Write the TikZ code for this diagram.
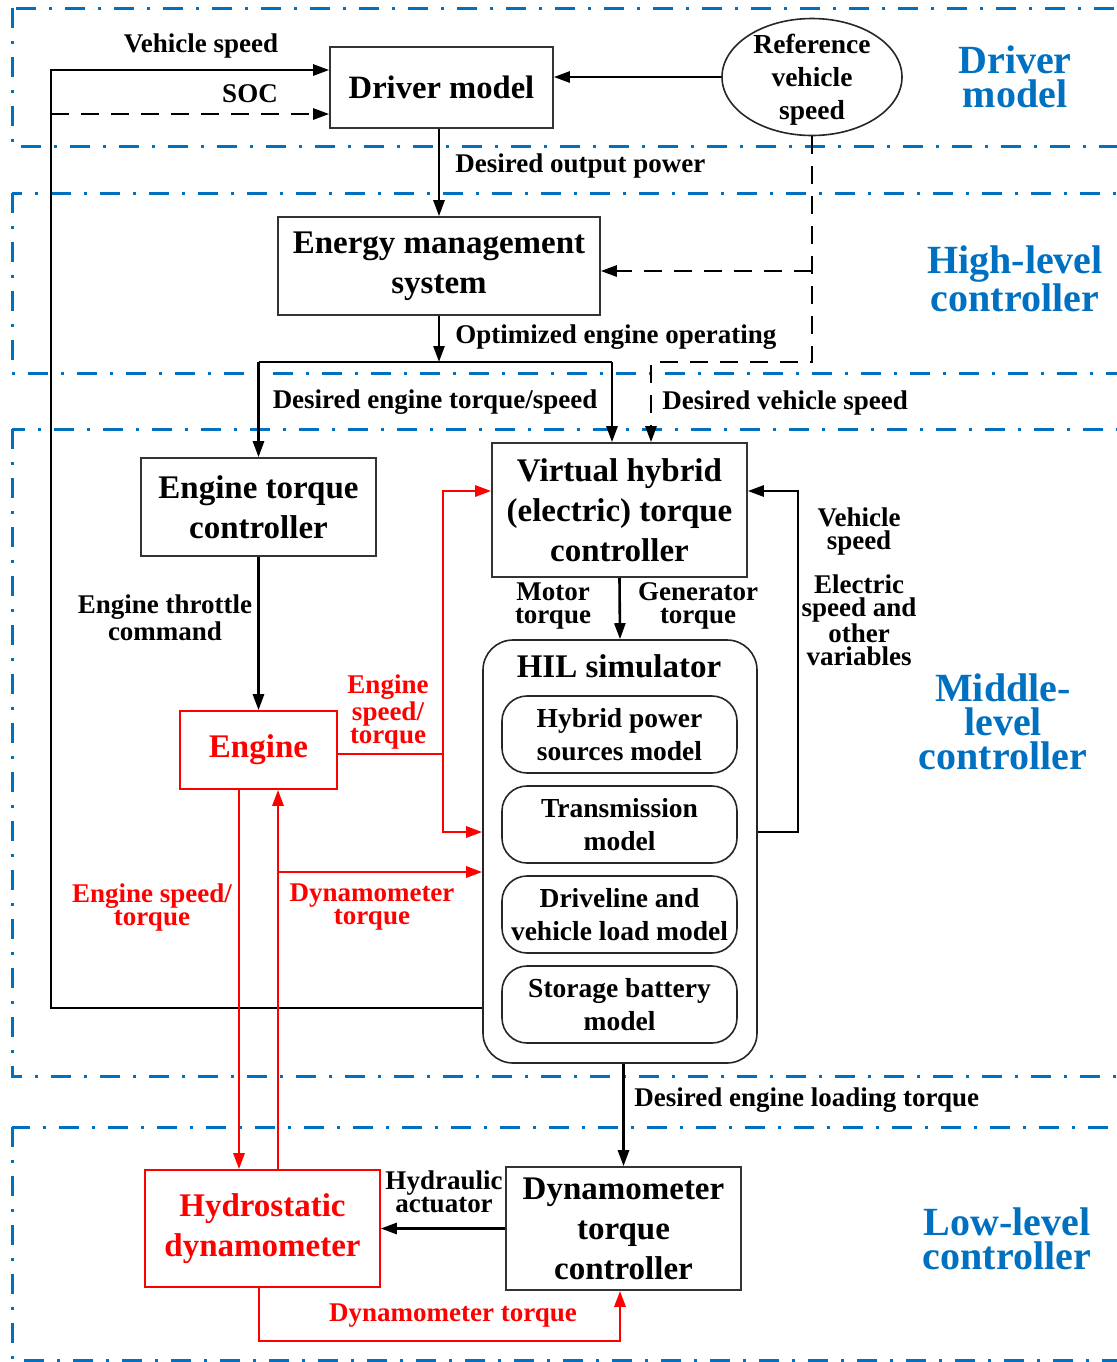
\documentclass[tikz,border=0pt]{standalone}
\usepackage{fontspec}
\setmainfont{Liberation Serif}
\usetikzlibrary{arrows.meta,shapes.geometric,calc}
\definecolor{hdrblue}{HTML}{0070C0}
\newcommand\FBig{\fontsize{16.5pt}{20pt}\selectfont\bfseries}
\newcommand\FDrv{\fontsize{16.3pt}{20pt}\selectfont\bfseries}
\newcommand\FMid{\fontsize{13.75pt}{16.5pt}\selectfont\bfseries}
\newcommand\FLab{\fontsize{13.5pt}{11.5pt}\selectfont\bfseries}
\newcommand\FHead{\fontsize{20pt}{17pt}\selectfont\bfseries}
\tikzset{
  wh/.style 2 args={minimum width=#1*0.5pt, minimum height=#2*0.5pt},
  blk/.style={draw=black!80, line width=0.8pt, inner sep=0pt, align=center, font=\FBig},
  redblk/.style={draw=red, line width=0.8pt, inner sep=0pt, align=center, font=\FBig, text=red},
  inbox/.style={draw=black!85, line width=0.8pt, rounded corners=12.5pt, inner sep=0pt, align=center, font=\FMid},
  conn/.style={line width=1.3pt, -{Triangle[length=8pt,width=5.5pt]}},
  rconn/.style={conn, draw=red, line width=1.4pt},
  plain/.style={line width=1.3pt},
  lab/.style={inner sep=0pt, align=center, font=\FLab},
  rlab/.style={lab, text=red},
  head/.style={inner sep=0pt, align=center, font=\FHead, text=hdrblue},
  region/.style={draw=hdrblue, line width=1.5pt, dash pattern=on 10pt off 6.5pt on 1.5pt off 6.5pt}
}
\begin{document}
\begin{tikzpicture}[x=0.5pt,y=-0.5pt]
\useasboundingbox (0,0) rectangle (1117,1362);
\clip (0,0) rectangle (1117,1362);
% regions
\draw[region] (12,8) rectangle (1160,146);
\draw[region] (12,193) rectangle (1160,373);
\draw[region] (12,429) rectangle (1160,1076);
\draw[region] (12,1127) rectangle (1160,1360);
% headings
\node[head] (h1) at (1015,77) {Driver\\model};
\node[head] (h2) at (1015,279) {High-level\\controller};
\node[head] (h3) at (1003,722) {Middle-\\level\\controller};
\node[head] (h4) at (1007,1239) {Low-level\\controller};
% nodes
\node[blk, wh={223}{81}, font=\FDrv] (drv) at (441.5,87.5) {Driver model};
\node[draw=black!85, line width=0.8pt, ellipse, wh={180}{117}, inner sep=0pt, align=center, font=\FMid] (ref) at (812,77) {};
\node[inner sep=0pt, align=center, font=\FMid] (reft) at (812,80) {Reference\\vehicle\\speed};
\node[blk, wh={322}{98}] (ems) at (439,266) {Energy management\\system};
\node[blk, wh={235}{98}] (etc) at (258.5,507) {Engine torque\\controller};
\node[blk, wh={255}{134}] (vh) at (619.5,510) {Virtual hybrid\\(electric) torque\\controller};
\node[draw=black!85, line width=0.8pt, rounded corners=15pt, wh={274}{423}, inner sep=0pt] (hil) at (620,851.5) {};
\node[inner sep=0pt, font=\FBig] (hilt) at (619,666) {HIL simulator};
\node[inbox, wh={235}{77}] (m1) at (619.5,734.5) {Hybrid power\\sources model};
\node[inbox, wh={235}{77}] (m2) at (619.5,824.5) {Transmission\\model};
\node[inbox, wh={235}{77}] (m3) at (619.5,914.5) {Driveline and\\vehicle load model};
\node[inbox, wh={235}{77}] (m4) at (619.5,1004.5) {Storage battery\\model};
\node[redblk, wh={157}{78}] (eng) at (258.5,750) {Engine};
\node[redblk, wh={235}{117}] (hyd) at (262.5,1228.5) {Hydrostatic\\dynamometer};
\node[blk, wh={235}{123}] (dtc) at (623.5,1228.5) {Dynamometer\\torque\\controller};
% helper coordinates
\coordinate (c1) at (51,1008);
\coordinate (c2) at (51,70);
\coordinate (c3) at (51,114);
\coordinate (d1) at (812,362);
\coordinate (d2) at (651,362);
\coordinate (d3) at (812,271);
\coordinate (j1) at (439,362);
\coordinate (j0) at (258.5,362);
\coordinate (j2) at (612,362);
\coordinate (r1) at (798,832);
\coordinate (r2) at (798,491);
\coordinate (e1) at (443,754);
\coordinate (e2) at (443,491);
\coordinate (e3) at (443,832);
\coordinate (k1) at (239,800);
\coordinate (k2) at (278,872);
\coordinate (b1) at (259,1341);
\coordinate (b2) at (620,1341);
% black connectors
\draw[conn] (hil.west |- c1) -- (c1) -- (c2) -- (drv.west |- c2);
\draw[conn, dash pattern=on 9pt off 6pt] (c3) -- (drv.west |- c3);
\draw[conn] (ref.west) -- (drv.east |- ref.west);
\draw[conn] (drv.south -| ems.north) -- (ems.north);
\draw[conn, dash pattern=on 9pt off 6pt] (ref.south) -- (d1) -- (d2) -- (d2 |- vh.north);
\draw[conn, dash pattern=on 9pt off 6pt] (d3) -- (ems.east |- d3);
\draw[conn] (ems.south) -- (j1);
\draw[plain] (j0) -- (j2);
\draw[conn] (j0) -- (etc.north);
\draw[conn] (j2) -- (j2 |- vh.north);
\draw[conn] (etc.south) -- (eng.north);
\draw[conn] (vh.south) -- (hil.north);
\draw[conn] (hil.east |- r1) -- (r1) -- (r2) -- (vh.east |- r2);
\draw[conn] (hil.south -| dtc.north) -- (dtc.north);
\draw[conn] (dtc.west) -- (hyd.east);
% red connectors
\draw[rconn] (eng.east |- e1) -- (e1) -- (e2) -- (vh.west |- e2);
\draw[rconn] (e1) -- (e3) -- (hil.west |- e3);
\draw[rconn] (eng.south -| k1) -- (hyd.north -| k1);
\draw[rconn] (hyd.north -| k2) -- (eng.south -| k2);
\draw[rconn] (k2) -- (hil.west |- k2);
\draw[rconn] (hyd.south -| b1) -- (b1) -- (b2) -- (dtc.south -| b2);
% labels
\node[lab] (l1) at (201,46) {Vehicle speed};
\node[lab] (l2) at (250,94) {SOC};
\node[lab, anchor=west] (l3) at (455,166) {Desired output power};
\node[lab, anchor=west] (l4) at (455,337) {Optimized engine operating};
\node[lab] (l5) at (435,402) {Desired engine torque/speed};
\node[lab, anchor=west] (l6) at (662,403) {Desired vehicle speed};
\node[lab] (l7) at (165,618) {Engine throttle\\command};
\node[lab] (l8) at (553,606) {Motor\\torque};
\node[lab] (l9) at (698,606) {Generator\\torque};
\node[lab] (l10) at (859,531) {Vehicle\\speed};
\node[lab] (l11) at (859,620) {Electric\\speed and\\other\\variables};
\node[rlab] (l12) at (388,712) {Engine\\speed/\\torque};
\node[rlab] (l13) at (152,907) {Engine speed/\\torque};
\node[rlab] (l14) at (372,907) {Dynamometer\\torque};
\node[lab, anchor=west] (l15) at (634,1100) {Desired engine loading torque};
\node[lab] (l16) at (444,1192) {Hydraulic\\actuator};
\node[rlab] (l17) at (453,1316) {Dynamometer torque};
\end{tikzpicture}
\end{document}
